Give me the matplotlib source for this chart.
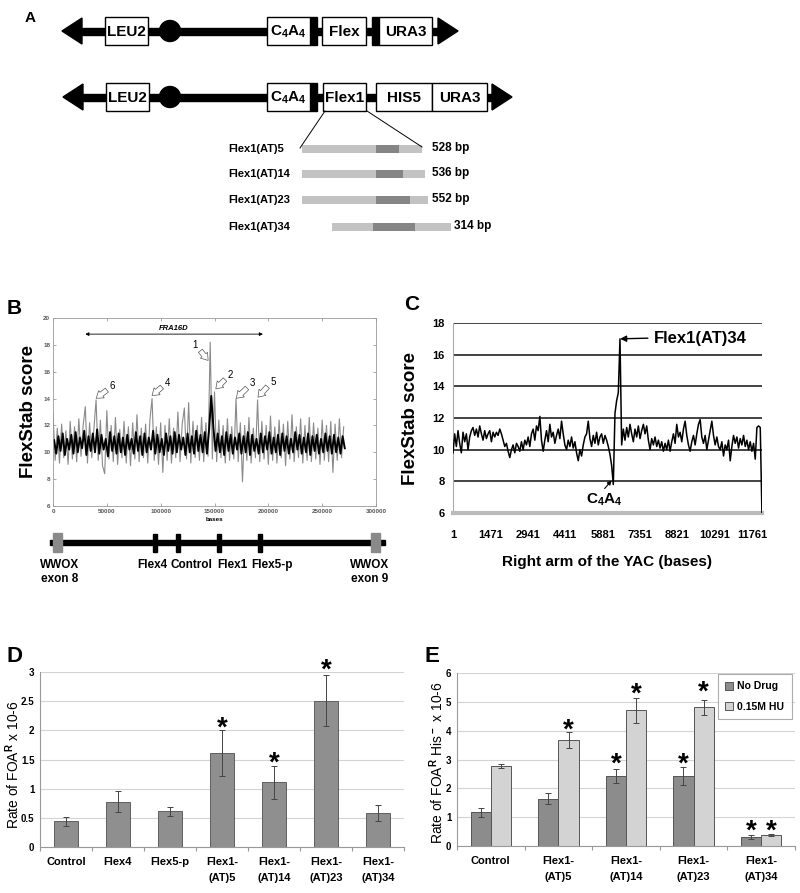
import matplotlib
matplotlib.use('Agg')
import matplotlib.pyplot as plt
from matplotlib.patches import Rectangle, Polygon, Circle
import numpy as np

plt.rcParams['font.family'] = ['Liberation Sans', 'DejaVu Sans']
plt.rcParams['font.weight'] = 'bold'
plt.rcParams['mathtext.fontset'] = 'custom'
plt.rcParams['mathtext.rm'] = 'Liberation Sans:bold'
plt.rcParams['mathtext.default'] = 'rm'

W, H = 800, 893
fig = plt.figure(figsize=(8, 8.93), dpi=100)


def px_axes(l, t, r, b):
    return fig.add_axes([l / W, 1 - b / H, (r - l) / W, (b - t) / H])


# ---------------- data ----------------
# panel A constructs (schematic, pixel layout)
c1_y = 31
c1_span = (62, 458)
c1_boxes = [('LEU2', 105, 148), ('C$_4$A$_4$', 267, 310), ('Flex', 322, 366), ('URA3', 379, 432)]
c1_blocks = [(310, 317), (372, 379)]
c2_y = 97
c2_span = (63, 512)
c2_boxes = [('LEU2', 106, 149), ('C$_4$A$_4$', 267, 310), ('Flex1', 323, 366),
            ('HIS5', 376, 432), ('URA3', 432, 487)]
c2_blocks = [(310, 317)]
cen_x = 170

frag_names = ['Flex1(AT)5', 'Flex1(AT)14', 'Flex1(AT)23', 'Flex1(AT)34']
frag_sizes = ['528 bp', '536 bp', '552 bp', '314 bp']
frag_start = [302, 302, 302, 332]
frag_end = [422, 425, 428, 451]
rep_start = [376, 376, 376, 373]
rep_end = [399, 403, 410, 415]
frag_y = [149, 174, 200, 227]

# panel B FlexStab trace (every 2000 bases)
b_grey = [12.9, 9.4, 11.8, 9.2, 12.1, 9.6, 11.6, 9.1, 12.3, 9.5, 11.9, 9.3, 12.5, 9.7, 12.0, 13.4,
          9.2, 12.2, 9.6, 11.8, 13.9, 9.4, 12.4, 9.0, 8.4, 13.1, 9.5, 12.0, 9.3, 12.6, 9.1, 11.7,
          9.6, 12.3, 9.2, 11.9, 9.0, 12.2, 9.5, 12.8, 9.3, 11.8, 9.6, 12.1, 9.2, 12.4, 14.0, 9.4,
          11.9, 9.1, 12.2, 8.5, 12.0, 9.4, 12.5, 9.2, 11.8, 9.6, 13.0, 9.3, 12.1, 13.3, 9.5, 13.7,
          9.2, 12.3, 9.6, 12.0, 9.4, 12.6, 9.3, 12.2, 9.7, 18.2, 9.5, 14.5, 9.3, 12.4, 9.6, 12.0,
          9.2, 12.5, 9.4, 11.9, 9.5, 14.0, 9.3, 12.2, 7.8, 12.0, 9.4, 12.6, 9.2, 11.8, 9.6, 13.9,
          9.3, 12.3, 9.5, 12.0, 9.1, 12.7, 9.4, 11.9, 9.2, 12.4, 9.6, 12.1, 9.0, 12.3, 9.5, 12.8,
          9.3, 11.9, 9.6, 12.5, 9.2, 12.0, 9.4, 12.6, 9.3, 12.2, 9.5, 11.8, 9.1, 12.4, 9.4, 12.0,
          9.3, 12.3, 8.5, 12.1, 9.4, 12.5, 9.6, 11.9]
b_black = [10.9, 9.9, 11.2, 10.1, 11.4, 9.8, 11.0, 10.2, 11.3, 9.9, 11.5, 10.0, 11.1, 10.3, 11.6, 9.8,
           11.2, 10.1, 11.4, 10.0, 11.7, 9.9, 11.3, 10.2, 11.0, 9.7, 11.5, 10.1, 11.2, 9.9, 11.4, 10.0,
           11.1, 9.8, 11.3, 10.2, 11.0, 9.9, 11.5, 10.1, 11.2, 9.8, 11.4, 10.0, 11.1, 10.2, 11.6, 9.9,
           11.3, 10.0, 11.0, 9.8, 11.4, 10.1, 11.2, 9.9, 11.5, 10.0, 11.3, 10.2, 11.1, 9.8, 11.4, 10.0,
           11.2, 9.9, 11.6, 10.1, 11.3, 10.0, 11.5, 9.9, 11.7, 14.2, 11.8, 10.1, 11.4, 10.0, 11.2, 9.8,
           11.5, 10.1, 11.3, 9.9, 11.1, 10.2, 11.4, 9.9, 11.2, 10.0, 11.5, 9.8, 11.3, 10.1, 11.0, 9.9,
           11.4, 10.0, 11.2, 10.2, 11.5, 9.9, 11.1, 10.0, 11.3, 9.8, 11.4, 10.1, 11.2, 9.9, 11.0, 10.0,
           11.5, 10.2, 11.3, 9.9, 11.1, 10.0, 11.4, 9.8, 11.2, 10.1, 11.3, 9.9, 11.0, 10.0, 11.4, 10.1,
           11.2, 9.9, 11.3, 10.0, 11.1, 9.9, 11.2, 10.3]
b_step = 2000
b_peaks = [('1', 131800, 17.96, 144100, 16.84), ('2', 164800, 15.77, 151200, 14.72),
           ('3', 185200, 15.14, 170300, 14.02), ('5', 204300, 15.27, 190400, 14.10),
           ('4', 106200, 15.19, 92000, 14.22), ('6', 55200, 14.94, 40100, 14.02)]
fra16d = (30000, 195000)

# gene map below B
gm_exons = [53, 371]
gm_marks = [155, 178, 219, 260]
gm_labels = [('WWOX\nexon 8', 60), ('Flex4', 152), ('Control', 191), ('Flex1', 232),
             ('Flex5-p', 272), ('WWOX\nexon 9', 370)]

# panel C trace (right arm of YAC)
c_vals = [9.8, 11.0, 10.2, 11.2, 10.4, 9.8, 11.1, 10.5, 11.0, 10.0, 10.8, 11.2, 11.4, 10.9, 11.3, 10.8,
          11.5, 11.0, 10.6, 11.2, 10.7, 11.0, 11.2, 10.5, 11.1, 10.8, 11.1, 10.9, 11.3, 11.0, 10.6, 10.2,
          10.4, 9.9, 9.5, 10.0, 10.3, 9.8, 10.4, 10.2, 9.9, 10.5, 10.0, 10.6, 10.3, 10.8, 10.2, 11.0,
          11.3, 10.6, 11.5, 11.2, 12.1, 10.6, 9.9, 10.6, 11.2, 10.5, 11.6, 10.8, 11.1, 10.4, 10.9, 11.3,
          10.7, 11.8, 11.0, 10.3, 10.0, 10.6, 10.2, 10.8, 10.1, 10.5, 9.8, 9.3, 10.0, 9.6, 10.3, 10.8,
          11.0, 11.8, 10.7, 10.2, 10.9, 10.4, 11.1, 10.3, 10.8, 11.0, 10.4, 10.9, 10.6, 10.2, 9.7, 9.0,
          7.8, 12.3, 13.1, 13.6, 17.0, 10.3, 11.3, 10.6, 11.4, 10.8, 11.6, 11.0, 10.5, 11.3, 10.8, 11.5,
          10.7, 11.2, 11.6, 11.0, 11.5, 10.6, 10.0, 10.7, 10.3, 10.8, 10.2, 10.6, 10.1, 10.5, 9.9, 10.4,
          10.0, 10.6, 9.9, 10.5, 11.0, 10.4, 11.6, 10.8, 11.1, 10.5, 11.3, 11.8, 10.9, 10.3, 9.9, 10.5,
          10.9, 10.3, 11.0, 11.6, 11.9, 10.8, 10.4, 10.9, 10.0, 10.6, 11.2, 11.8, 10.9, 10.3, 10.8, 10.2,
          10.0, 10.5, 9.6, 10.3, 10.0, 10.6, 9.3, 10.2, 10.9, 10.4, 10.8, 10.1, 10.7, 10.3, 10.9, 10.2,
          10.6, 10.0, 10.5, 9.9, 10.4, 9.4, 11.4, 11.5, 11.4, 6.0]
c_step = 65.6
c_ticks = [1, 1471, 2941, 4411, 5881, 7351, 8821, 10291, 11761]

# panel D
d_labels = ['Control', 'Flex4', 'Flex5-p', 'Flex1-\n(AT)5', 'Flex1-\n(AT)14', 'Flex1-\n(AT)23', 'Flex1-\n(AT)34']
d_vals = [0.44, 0.78, 0.61, 1.61, 1.11, 2.51, 0.58]
d_err = [0.08, 0.18, 0.07, 0.40, 0.28, 0.44, 0.14]
d_star = [None, None, None, 2.2, 1.6, 3.19, None]

# panel E
e_labels = ['Control', 'Flex1-\n(AT)5', 'Flex1-\n(AT)14', 'Flex1-\n(AT)23', 'Flex1-\n(AT)34']
e_nodrug = [1.17, 1.64, 2.44, 2.44, 0.31]
e_nodrug_err = [0.16, 0.19, 0.24, 0.31, 0.07]
e_hu = [2.77, 3.68, 4.71, 4.81, 0.39]
e_hu_err = [0.06, 0.29, 0.43, 0.27, 0.04]
e_star_nodrug = [None, None, 3.16, 3.16, 0.84]
e_star_hu = [None, 4.32, 5.57, 5.67, 0.84]

# ---------------- overlay for schematics ----------------
ov = fig.add_axes([0, 0, 1, 1])
ov.set_xlim(0, W)
ov.set_ylim(H, 0)
ov.axis('off')


def construct(y, span, boxes, blocks):
    tl, tr = span
    head, half = 20, 13
    ov.add_patch(Rectangle((tl + head, y - 3.5), tr - tl - 2 * head, 7, color='black'))
    ov.add_patch(Polygon([(tl, y), (tl + head, y - half), (tl + head, y + half)], color='black'))
    ov.add_patch(Polygon([(tr, y), (tr - head, y - half), (tr - head, y + half)], color='black'))
    ov.add_patch(Circle((cen_x, y), 10.5, color='black'))
    for a, b in blocks:
        ov.add_patch(Rectangle((a, y - 14), b - a, 28, color='black'))
    for name, a, b in boxes:
        ov.add_patch(Rectangle((a, y - 14), b - a, 28, fc='white', ec='black', lw=1))
        ov.text((a + b) / 2, y + 1, name, ha='center', va='center', fontsize=11)


construct(c1_y, c1_span, c1_boxes, c1_blocks)
construct(c2_y, c2_span, c2_boxes, c2_blocks)
ov.plot([325, 300], [111, 148], color='black', lw=0.7)
ov.plot([367, 422], [111, 147], color='black', lw=0.7)
for i in range(len(frag_names)):
    y = frag_y[i]
    ov.add_patch(Rectangle((frag_start[i], y - 4), frag_end[i] - frag_start[i], 8, color='#c3c3c3', lw=0))
    ov.add_patch(Rectangle((rep_start[i], y - 4), rep_end[i] - rep_start[i], 8, color='#858585', lw=0))
    ov.text(228, y, frag_names[i], ha='left', va='center', fontsize=8)
    ov.text(max(432, frag_end[i] + 3), y - 1, frag_sizes[i], ha='left', va='center', fontsize=8.5)

# gene map
ov.add_patch(Rectangle((50, 540), 335, 4.5, color='black'))
for xe in gm_exons:
    ov.add_patch(Rectangle((xe, 533), 9, 19, color='#8a8a8a'))
for xm in gm_marks:
    ov.add_patch(Rectangle((xm - 2.3, 534), 4.6, 18, color='black'))
for name, xl in gm_labels:
    ov.text(xl, 559, name, ha='center', va='top', fontsize=8.5, linespacing=1.25)

# panel letters
for letter, x, y, fs in [('A', 30, 18, 11), ('B', 14, 309, 15), ('C', 412, 305, 15),
                         ('D', 14, 657, 16), ('E', 432, 657, 16)]:
    ov.text(x, y, letter, ha='center', va='center', fontsize=fs)

# ---------------- panel B ----------------
axB = px_axes(53, 318, 376, 506)
xg = b_step * np.arange(len(b_grey))
xb = b_step * np.arange(len(b_black)) + b_step / 2
axB.plot(xg, b_grey, color='#8a8a8a', lw=0.8)
axB.plot(xb, b_black, color='black', lw=1.4)
axB.set_xlim(0, 300000)
axB.set_ylim(6, 20)
axB.set_xticks(np.arange(0, 300001, 50000))
axB.set_yticks(np.arange(6, 21, 2))
axB.tick_params(labelsize=4.5, labelcolor='#555', direction='in', length=2, width=0.5,
                top=True, right=True, color='#888', pad=2)
for s in axB.spines.values():
    s.set_color('#999')
    s.set_linewidth(0.6)
axB.set_xlabel('bases', fontsize=4.5, labelpad=2, weight='bold')
axB.set_ylabel('FlexStab score', fontsize=13.5, va='center', weight='bold')
axB.yaxis.set_label_coords(-0.077, 0.5)
axB.annotate('', xy=(fra16d[0], 18.8), xytext=(fra16d[1], 18.8),
             arrowprops=dict(arrowstyle='<|-|>', color='black', lw=0.6, mutation_scale=5,
                             shrinkA=0, shrinkB=0))
axB.text(sum(fra16d) / 2, 19.25, 'FRA16D', ha='center', va='center', fontsize=5.5, style='italic')
for lab, tx, ty, ax_, ay in b_peaks:
    rel = (1, 0.3) if lab == '1' else (0, 0.3)
    axB.annotate(lab, xy=(ax_, ay), xytext=(tx, ty), ha='center', va='center', fontsize=7, weight='normal',
                 arrowprops=dict(arrowstyle='simple,head_length=0.4,head_width=0.55,tail_width=0.3',
                                 mutation_scale=12, fc='white', ec='#555', lw=0.5,
                                 shrinkA=0, shrinkB=0, relpos=rel))

# ---------------- panel C ----------------
axC = px_axes(453, 323, 762, 513)
xc = 1 + c_step * np.arange(len(c_vals))
for g in range(8, 19, 2):
    axC.axhline(g, color='#222', lw=1.2, zorder=1)
axC.plot(xc, c_vals, color='black', lw=1.1, zorder=3)
axC.set_xlim(1, 12140)
axC.set_ylim(6, 18)
axC.set_xticks(c_ticks)
axC.set_yticks(np.arange(6, 19, 2))
axC.tick_params(axis='x', labelsize=8, length=0, pad=12)
axC.tick_params(axis='y', labelsize=8, length=0, pad=6)
axC.spines['top'].set_visible(False)
axC.spines['right'].set_visible(False)
axC.spines['left'].set_color('#aaa')
axC.spines['left'].set_linewidth(0.8)
axC.spines['bottom'].set_color('#bbb')
axC.spines['bottom'].set_linewidth(3)
axC.set_xlabel('Right arm of the YAC (bases)', fontsize=11, labelpad=11, weight='bold')
axC.set_ylabel('FlexStab score', fontsize=13.5, va='center', weight='bold')
axC.yaxis.set_label_coords(-0.139, 0.5)
axC.annotate('Flex1(AT)34', xy=(6564, 17.0), xytext=(7876, 17.05), ha='left', va='center', fontsize=12,
             arrowprops=dict(arrowstyle='-|>', color='black', lw=1, mutation_scale=9,
                             shrinkA=2, shrinkB=0, relpos=(0, 0.5)))
axC.annotate('C$_4$A$_4$', xy=(6230, 8.05), xytext=(5935, 6.85), ha='center', va='center', fontsize=11,
             arrowprops=dict(arrowstyle='-|>', color='black', lw=0.8, mutation_scale=6,
                             shrinkA=0, shrinkB=0, relpos=(0.45, 1.0)))


def bar_style(ax, nx, ymax, step):
    ax.set_ylim(0, ymax)
    ax.set_xlim(-0.5, nx - 0.5)
    yt = np.arange(0, ymax + 0.01, step)
    ax.set_yticks(yt)
    ax.set_yticklabels([f'{v:g}' for v in yt])
    ax.grid(axis='y', color='#d4d4d4', lw=0.8)
    ax.set_axisbelow(True)
    for s in ['top', 'right']:
        ax.spines[s].set_visible(False)
    for s in ['left', 'bottom']:
        ax.spines[s].set_color('#999')
        ax.spines[s].set_linewidth(0.8)
    ax.set_xticks(np.arange(-0.5, nx, 1), minor=True)
    ax.tick_params(axis='x', which='major', length=0, labelsize=8, pad=7)
    ax.tick_params(axis='x', which='minor', length=3, color='#999', width=0.8)
    ax.tick_params(axis='y', length=0, labelsize=7, pad=4)


def star(ax, x, y):
    ax.annotate('*', (x, y), xytext=(0, -12), textcoords='offset points', ha='center',
                va='baseline', fontsize=20, annotation_clip=False)


# ---------------- panel D ----------------
axD = px_axes(40, 672, 404, 847)
xd = np.arange(len(d_vals))
axD.bar(xd, d_vals, 0.46, color='#8f8f8f', edgecolor='#5f5f5f', lw=0.7,
        yerr=d_err, error_kw=dict(ecolor='#444', lw=0.7, capsize=2, capthick=0.7))
bar_style(axD, len(d_vals), 3, 0.5)
axD.set_xticks(xd)
axD.set_xticklabels(d_labels, linespacing=1.75)
axD.set_ylabel('Rate of FOA$^R$ x 10-6', fontsize=10, va='center')
axD.yaxis.set_label_coords(-0.074, 0.47)
for i, s in enumerate(d_star):
    if s is not None:
        star(axD, xd[i], s)

# ---------------- panel E ----------------
axE = px_axes(457, 673, 795, 846)
xe = np.arange(len(e_nodrug))
bw = 0.3
axE.bar(xe - bw / 2, e_nodrug, bw, color='#8c8c8c', edgecolor='#555', lw=0.7, label='No Drug',
        yerr=e_nodrug_err, error_kw=dict(ecolor='#444', lw=0.7, capsize=2, capthick=0.7))
axE.bar(xe + bw / 2, e_hu, bw, color='#d3d3d3', edgecolor='#555', lw=0.7, label='0.15M HU',
        yerr=e_hu_err, error_kw=dict(ecolor='#444', lw=0.7, capsize=2, capthick=0.7))
bar_style(axE, len(e_nodrug), 6, 1)
axE.set_xticks(xe)
axE.set_xticklabels(e_labels, linespacing=1.75)
axE.set_ylabel('Rate of FOA$^R$ His$^-$ x 10-6', fontsize=10, va='center')
axE.yaxis.set_label_coords(-0.059, 0.48)
for i in range(len(xe)):
    if e_star_nodrug[i] is not None:
        star(axE, xe[i] - bw / 2, e_star_nodrug[i])
    if e_star_hu[i] is not None:
        star(axE, xe[i] + bw / 2, e_star_hu[i])
leg = axE.legend(loc='upper right', bbox_to_anchor=(0.99, 0.995), borderaxespad=0, fontsize=7.5,
                 handlelength=0.8, handleheight=0.8, handletextpad=0.4, labelspacing=1.0,
                 fancybox=False, edgecolor='#999', borderpad=0.7)
leg.get_frame().set_linewidth(0.8)

fig.savefig('out.png', dpi=100)
